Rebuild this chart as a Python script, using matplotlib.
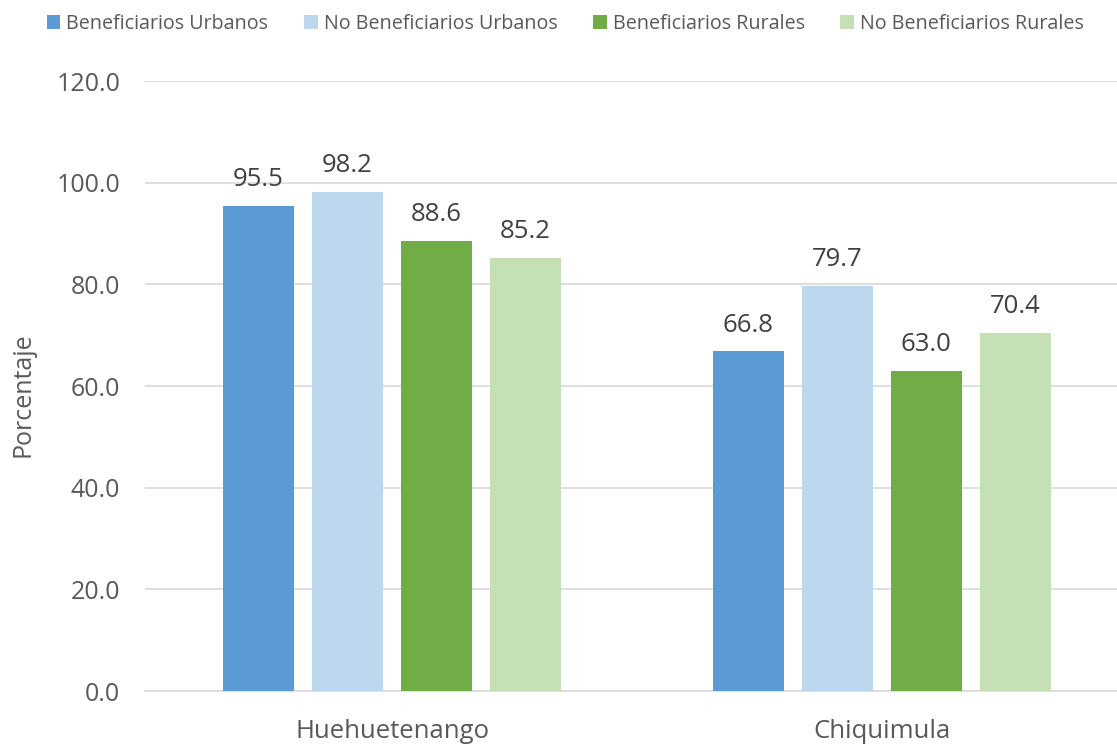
import matplotlib
matplotlib.use("Agg")
import matplotlib.pyplot as plt
import numpy as np

categories = ["Huehuetenango", "Chiquimula"]
series_names = ["Beneficiarios Urbanos", "No Beneficiarios Urbanos",
                "Beneficiarios Rurales", "No Beneficiarios Rurales"]
ben_urb = [95.5, 66.8]
nob_urb = [98.2, 79.7]
ben_rur = [88.6, 63.0]
nob_rur = [85.2, 70.4]
yticks = [0, 20, 40, 60, 80, 100, 120]

colors = ["#5B9BD5", "#BDD7EE", "#70AD47", "#C5E0B4"]
series = [ben_urb, nob_urb, ben_rur, nob_rur]

plt.rcParams['font.family'] = ['Open Sans', 'DejaVu Sans']
fig = plt.figure(figsize=(11.17, 7.46), dpi=100)
ax = fig.add_axes([0.13, 0.0737, 0.87, 0.8177])

x = np.arange(len(categories))
width = 0.145
step = 0.1816
offsets = (np.arange(4) - 1.5) * step
for vals, col, name, off in zip(series, colors, series_names, offsets):
    bars = ax.bar(x + off, vals, width, color=col, label=name, zorder=3)
    for b, v in zip(bars, vals):
        ax.annotate(f"{v:.1f}", (b.get_x() + b.get_width() / 2, v),
                    xytext=(0, 10), textcoords="offset points",
                    ha="center", va="bottom", fontsize=18.5, color="#404040")

ax.set_xlim(-0.504, 1.480)
ax.set_ylim(0, 120)
ax.set_yticks(yticks)
ax.set_yticklabels([f"{t:.1f}" for t in yticks], fontsize=18, color="#595959")
ax.set_xticks(x)
ax.set_xticklabels(categories, fontsize=18.5, color="#595959")
ax.tick_params(axis="y", length=0, pad=18)
ax.tick_params(axis="x", length=0, pad=20)
ax.grid(axis="y", color="#D9D9D9", linewidth=1.2, zorder=0)
for s in ["top", "right", "left"]:
    ax.spines[s].set_visible(False)
ax.spines["bottom"].set_color("#D9D9D9")
ax.spines["bottom"].set_linewidth(1.2)
ax.set_ylabel("Porcentaje", fontsize=18, color="#595959")
ax.yaxis.set_label_coords(-0.113, 0.485)

handles, labels = ax.get_legend_handles_labels()
fig.legend(handles, labels, loc="upper center", bbox_to_anchor=(0.506, 1.005),
           ncol=4, frameon=False, fontsize=14.2, handlelength=0.7, handleheight=0.7,
           handletextpad=0.3, columnspacing=1.8, labelcolor="#595959")

fig.savefig("out.png", dpi=100)
